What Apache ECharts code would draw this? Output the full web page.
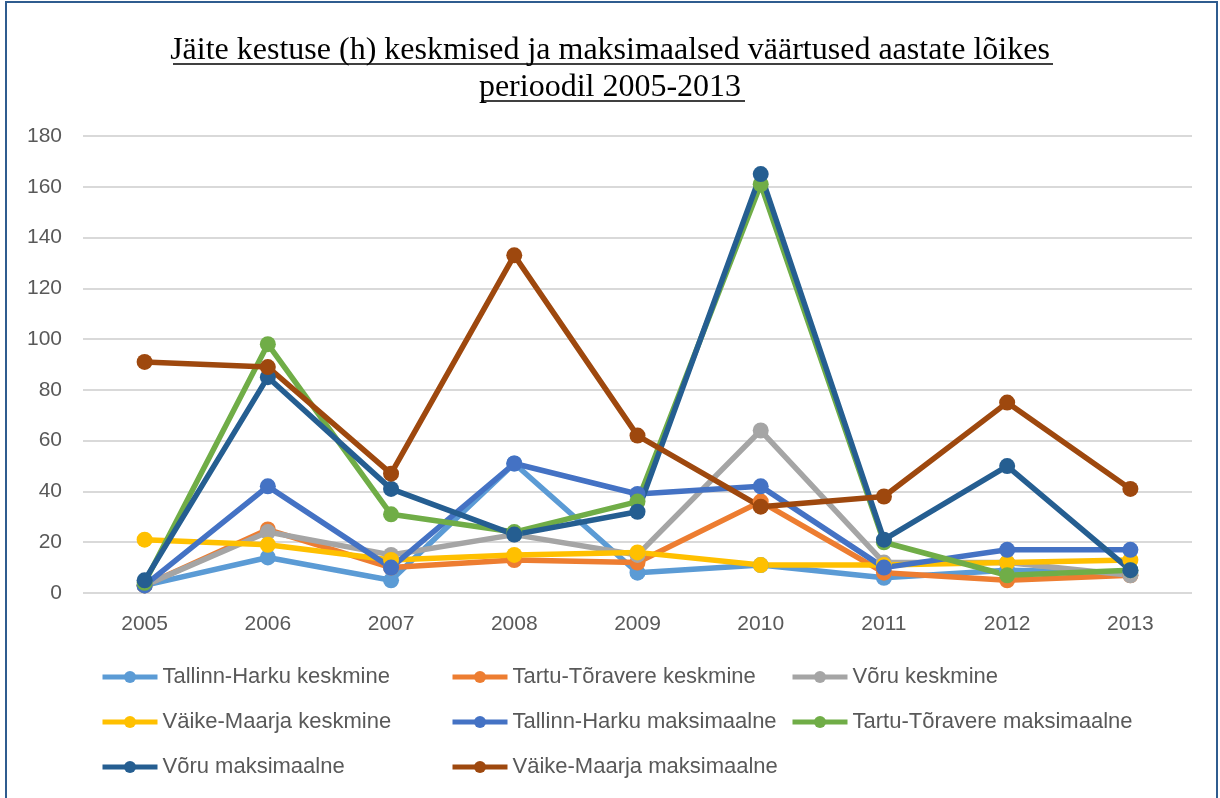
<!DOCTYPE html>
<html>
<head>
<meta charset="utf-8">
<script src="https://cdn.jsdelivr.net/npm/echarts@6/dist/echarts.min.js"></script>
<style>
html,body{margin:0;padding:0;background:#fff;}
#chart{width:1220px;height:798px;}
</style>
</head>
<body>
<div id="chart"></div>
<script>
var years = ['2005','2006','2007','2008','2009','2010','2011','2012','2013'];
var yTicks = [0, 20, 40, 60, 80, 100, 120, 140, 160, 180];
var seriesNames = [
    'Tallinn-Harku keskmine', 'Tartu-Tõravere keskmine', 'Võru keskmine',
    'Väike-Maarja keskmine', 'Tallinn-Harku maksimaalne', 'Tartu-Tõravere maksimaalne',
    'Võru maksimaalne', 'Väike-Maarja maksimaalne'
];
var colors = ['#5B9BD5', '#ED7D31', '#A5A5A5', '#FFC000', '#4472C4', '#70AD47', '#255E91', '#9E480E'];
// keskmised
var tallinnKesk = [3, 14, 5, 51, 8, 11, 6, 9, 8];
var tartuKesk = [3, 25, 10, 13, 12, 36, 8, 5, 7];
var voruKesk = [3, 24, 15, 23, 15, 64, 12, 12, 7];
var vmKesk = [21, 19, 13, 15, 16, 11, 11, 12, 13];
// maksimaalsed
var tallinnMax = [3, 42, 10, 51, 39, 42, 10, 17, 17];
var tartuMax = [4, 98, 31, 24, 36, 161, 20, 7, 9];
var voruMax = [5, 85, 41, 23, 32, 165, 21, 50, 9];
var vmMax = [91, 89, 47, 133, 62, 34, 38, 75, 41];
var allData = [tallinnKesk, tartuKesk, voruKesk, vmKesk, tallinnMax, tartuMax, voruMax, vmMax];

var chart = echarts.init(document.getElementById('chart'));
var series = [];
for (var i = 0; i < seriesNames.length; i++) {
    series.push({
        name: seriesNames[i],
        type: 'line',
        data: allData[i],
        symbol: 'circle',
        symbolSize: 16,
        color: colors[i],
        lineStyle: { width: 5.5, color: colors[i] },
        itemStyle: { color: colors[i] }
    });
}
var legendText = { fontFamily: 'Liberation Sans', fontSize: 22, color: '#595959', lineHeight: 24 };
function legendCol(left, names) {
    return {
        orient: 'vertical',
        left: left,
        top: 660,
        itemWidth: 55,
        itemHeight: 15,
        itemGap: 21,
        itemTextGap: 2,
        lineStyle: { width: 5 },
        textStyle: legendText,
        data: names
    };
}
var option = {
    animation: false,
    title: {
        text: 'Jäite kestuse (h) keskmised ja maksimaalsed väärtused aastate lõikes\nperioodil 2005-2013',
        left: 'center',
        top: 27,
        textStyle: { fontFamily: 'Liberation Serif', fontWeight: 'normal', fontSize: 32, color: '#000', lineHeight: 37 }
    },
    graphic: [
        { type: 'rect', shape: { x: 6, y: 2, width: 1211, height: 820 }, style: { fill: 'none', stroke: '#2F5C8F', lineWidth: 2 } },
        { type: 'line', shape: { x1: 173, y1: 64, x2: 1053, y2: 64 }, style: { stroke: '#000', lineWidth: 1.5 } },
        { type: 'line', shape: { x1: 481, y1: 101, x2: 745, y2: 101 }, style: { stroke: '#000', lineWidth: 1.5 } }
    ],
    legend: [
        legendCol(95, [seriesNames[0], seriesNames[3], seriesNames[6]]),
        legendCol(445, [seriesNames[1], seriesNames[4], seriesNames[7]]),
        legendCol(785, [seriesNames[2], seriesNames[5]])
    ],
    grid: { left: 83, right: 28, top: 136, bottom: 205 },
    xAxis: {
        type: 'category',
        data: years,
        axisLine: { show: false },
        axisTick: { show: false },
        axisLabel: { fontFamily: 'Liberation Sans', fontSize: 21, color: '#595959', margin: 21 }
    },
    yAxis: {
        type: 'value',
        min: yTicks[0],
        max: yTicks[yTicks.length - 1],
        interval: yTicks[1] - yTicks[0],
        axisLine: { show: false },
        axisTick: { show: false },
        axisLabel: { fontFamily: 'Liberation Sans', fontSize: 21, color: '#595959', margin: 21 },
        splitLine: { lineStyle: { color: '#D9D9D9', width: 2 } }
    },
    series: series
};
chart.setOption(option);
</script>
</body>
</html>
